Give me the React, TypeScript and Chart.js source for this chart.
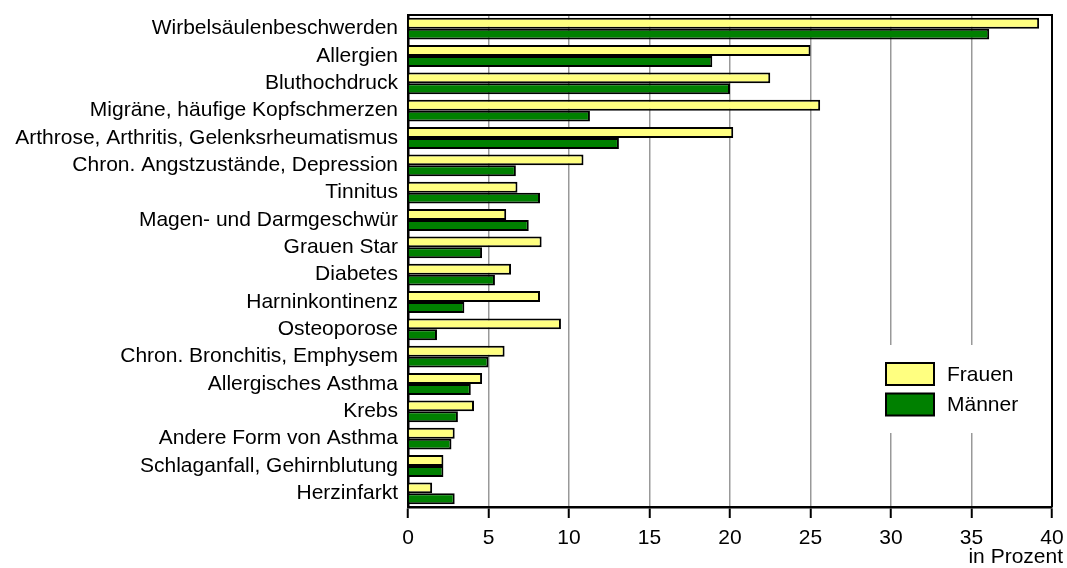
import React, { useEffect, useRef } from "react";
import { Chart, registerables } from "chart.js";

Chart.register(...registerables);

const categories = [
  "Wirbelsäulenbeschwerden",
  "Allergien",
  "Bluthochdruck",
  "Migräne, häufige Kopfschmerzen",
  "Arthrose, Arthritis, Gelenksrheumatismus",
  "Chron. Angstzustände, Depression",
  "Tinnitus",
  "Magen- und Darmgeschwür",
  "Grauen Star",
  "Diabetes",
  "Harninkontinenz",
  "Osteoporose",
  "Chron. Bronchitis, Emphysem",
  "Allergisches Asthma",
  "Krebs",
  "Andere Form von Asthma",
  "Schlaganfall, Gehirnblutung",
  "Herzinfarkt",
];

const frauen = [39.2, 25.0, 22.5, 25.6, 20.2, 10.9, 6.8, 6.1, 8.3, 6.4, 8.2, 9.5, 6.0, 4.6, 4.1, 2.9, 2.2, 1.5];
const maenner = [36.1, 18.9, 20.0, 11.3, 13.1, 6.7, 8.2, 7.5, 4.6, 5.4, 3.5, 1.8, 5.0, 3.9, 3.1, 2.7, 2.2, 2.9];

const seriesNames = ["Frauen", "Männer"];
const xTicks = [0, 5, 10, 15, 20, 25, 30, 35, 40];
const axisTitle = "in Prozent";

const FONT = "'Liberation Sans', Arial, Helvetica, sans-serif";
const FS = 21;
const YELLOW = "#FFFF80";
const GREEN = "#008000";

const framePlugin = {
  id: "frameAndLegend",
  afterDraw(chart: any) {
    const { ctx, chartArea } = chart;
    const { left, right, top, bottom } = chartArea;
    ctx.save();
    // frame top & right
    ctx.strokeStyle = "#000";
    ctx.lineWidth = 2;
    ctx.beginPath();
    ctx.moveTo(left, top);
    ctx.lineTo(right, top);
    ctx.lineTo(right, bottom);
    ctx.stroke();

    // axis title
    ctx.fillStyle = "#000";
    ctx.font = `${FS}px ${FONT}`;
    ctx.textAlign = "right";
    ctx.textBaseline = "alphabetic";
    ctx.fillText(axisTitle, right + 11, 563);

    // legend
    ctx.fillStyle = "#fff";
    ctx.fillRect(874, 345, 172, 88);
    const items = [
      { label: seriesNames[0], color: YELLOW },
      { label: seriesNames[1], color: GREEN },
    ];
    items.forEach((it, i) => {
      const by = 363 + i * 30.5;
      ctx.fillStyle = it.color;
      ctx.fillRect(886, by, 48, 22);
      ctx.strokeStyle = "#000";
      ctx.lineWidth = 2;
      ctx.strokeRect(886, by, 48, 22);
      ctx.fillStyle = "#000";
      ctx.font = `${FS}px ${FONT}`;
      ctx.textBaseline = "middle";
      ctx.textAlign = "left";
      ctx.fillText(it.label, 947, by + 12);
    });
    ctx.restore();
  },
};

export default function App() {
  const ref = useRef<HTMLCanvasElement | null>(null);

  useEffect(() => {
    if (!ref.current) return;
    const chart = new Chart(ref.current, {
      type: "bar",
      data: {
        labels: categories,
        datasets: [
          {
            label: seriesNames[0],
            data: frauen,
            backgroundColor: YELLOW,
            borderColor: "#000",
            borderWidth: 2,
            categoryPercentage: 0.8,
            barPercentage: 1.0,
          },
          {
            label: seriesNames[1],
            data: maenner,
            backgroundColor: GREEN,
            borderColor: "#000",
            borderWidth: 2,
            categoryPercentage: 0.8,
            barPercentage: 1.0,
          },
        ],
      },
      options: {
        indexAxis: "y",
        animation: false,
        responsive: true,
        maintainAspectRatio: false,
        layout: { padding: { left: 0, top: 15, right: 15, bottom: 0 } },
        plugins: {
          legend: { display: false },
          tooltip: { enabled: false },
        },
        scales: {
          x: {
            type: "linear",
            min: 0,
            max: 40,
            afterBuildTicks: (scale: any) => {
              scale.ticks = xTicks.map((v) => ({ value: v }));
            },
            afterFit: (scale: any) => {
              scale.height = 61;
              scale.paddingLeft = 0;
              scale.paddingRight = 0;
            },
            ticks: {
              color: "#000",
              font: { family: FONT, size: FS },
              padding: 8,
              maxRotation: 0,
              autoSkip: false,
            },
            grid: {
              color: "#999",
              lineWidth: 1.5,
              drawTicks: true,
              tickLength: 11,
              tickColor: "#000",
              tickWidth: 2,
            },
            border: { display: true, color: "#000", width: 2.5 },
          },
          y: {
            type: "category",
            afterFit: (scale: any) => {
              scale.width = 408;
              scale.paddingTop = 0;
              scale.paddingBottom = 0;
            },
            ticks: {
              color: "#000",
              font: { family: FONT, size: FS },
              padding: 10,
              autoSkip: false,
            },
            grid: { display: false, drawTicks: false },
            border: { display: true, color: "#000", width: 2.5 },
          },
        },
      },
      plugins: [framePlugin],
    } as any);
    return () => chart.destroy();
  }, []);

  return (
    <div style={{ position: "absolute", left: 0, top: 0, width: 1067, height: 568, background: "#fff" }}>
      <canvas ref={ref} />
    </div>
  );
}
